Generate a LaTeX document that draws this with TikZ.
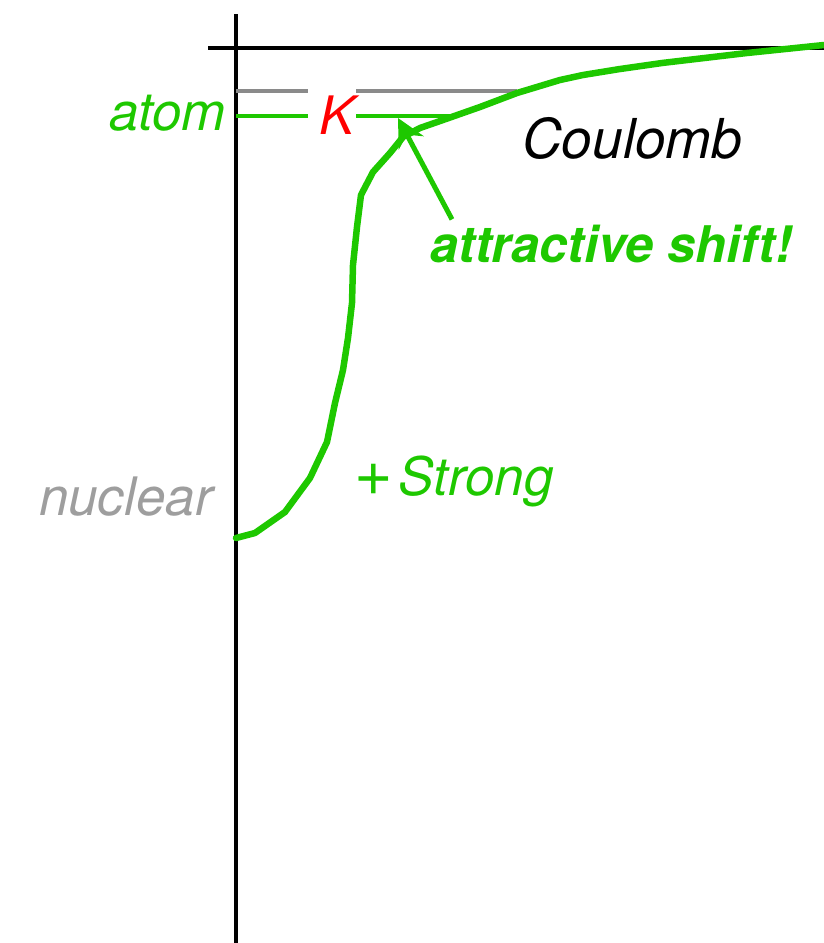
\documentclass[tikz,border=0pt]{standalone}
\usepackage{fontspec}
\setmainfont{TeX Gyre Heros}
\usepackage{tikz}
\usetikzlibrary{arrows.meta}
\definecolor{potGreen}{HTML}{1EC800}
\definecolor{levRed}{HTML}{FF0000}
\definecolor{levGrey}{HTML}{8A8A8A}
\definecolor{txtGrey}{HTML}{9E9E9E}

\begin{document}
\begin{tikzpicture}[x=1pt, y=-1pt,
  axis/.style={line width=3.5pt, black},
  level/.style={line width=4pt},
  pot/.style={potGreen, line width=6.5pt, line join=round, line cap=round},
  lab/.style={font=\fontsize{53}{60}\selectfont\itshape, inner sep=0pt},
  note/.style={font=\fontsize{50.5}{58}\selectfont\bfseries\itshape, text=potGreen, inner sep=3pt}]
  \useasboundingbox (0,0) rectangle (824,943);

  % axes
  \draw[axis] (236,14) -- (236,943);
  \draw[axis] (208,48) -- (824,48);

  % levels: nuclear only (grey) and shifted (green)
  \node[lab, text=levRed, anchor=base] (K) at (337,134) {K};
  \draw[level, levGrey] (236,91) -- (308,91);
  \draw[level, levGrey] (356,91) -- (517,91);
  \draw[level, potGreen, line width=3.5pt] (236,116) -- (308,116);
  \draw[level, potGreen, line width=3.5pt] (356,116) -- (453,116);

  % potential: Coulomb + strong
  \draw[pot] plot coordinates {(236,538) (255,533) (285,512) (310,478) (327,442)
    (335,403) (343,370) (348,338) (352,303) (353,265) (357,227) (361,195)
    (373,172) (390,153) (403,137) (420,128) (443,120) (480,107) (517,93)
    (560,80) (583,75) (620,69) (662,63) (747,53) (824,45)};

  % labels
  \node[lab, text=potGreen, anchor=base east] (atom) at (226,130) {atom};
  \node[lab, text=txtGrey, anchor=base east] (nuclear) at (213,515) {nuclear};
  \node[lab, text=potGreen, anchor=base west] (strong) at (354,495)
    {{\fontsize{66}{60}\selectfont\upshape +}\hspace{6pt}Strong};
  \node[lab, text=black, anchor=base west, font=\fontsize{55}{60}\selectfont\itshape] (coulomb) at (522,158) {Coulomb};
  \node[note, anchor=base west] (shift) at (427,262) {attractive shift!};

  \coordinate (tip) at (398,118);
  \draw[potGreen, line width=5pt, -{Stealth[length=28pt, width=28pt]}]
    ([xshift=25pt, yshift=2pt]shift.north west) -- (tip);
\end{tikzpicture}
\end{document}
